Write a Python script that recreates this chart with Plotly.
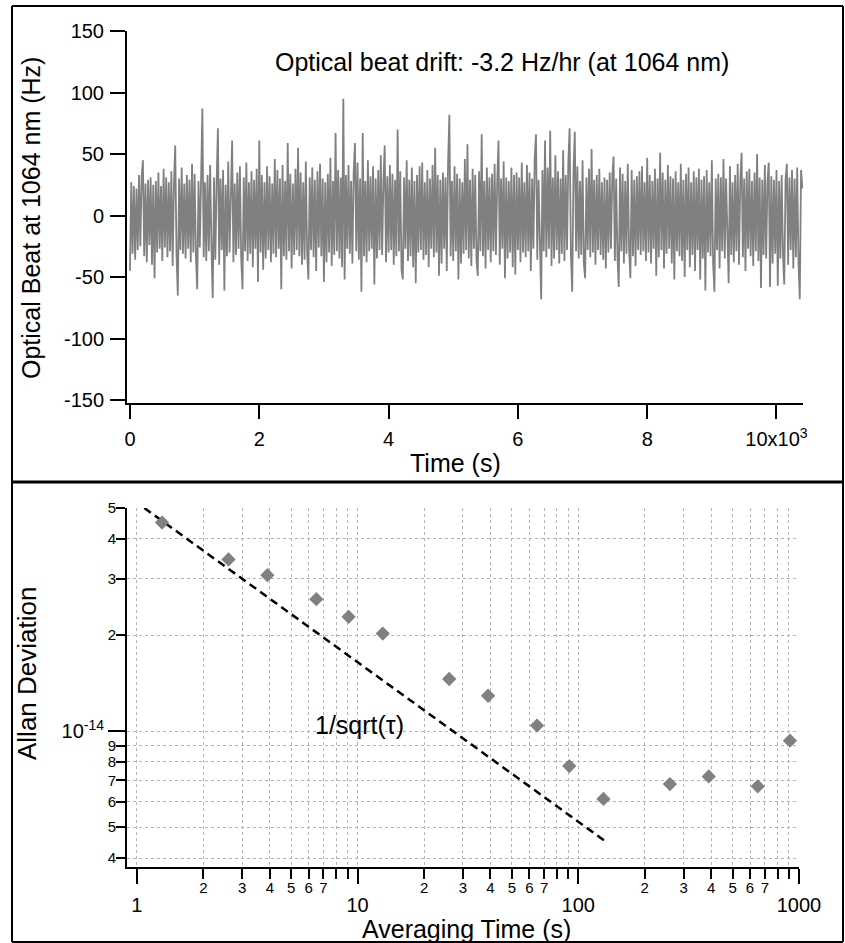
import plotly.graph_objects as go
import numpy as np

# ---------------- data ----------------
beat_hz = [
    -45, 27, -31, 24, -36, 22, -28, 33, -25, 30, 45, -33, 26, -38, 29, -24, 31, -40, 25, -51,
    28, -30, 35, -27, 24, -37, 38, -26, 31, -34, 27, -29, 36, -41, 25, 57, -32, -65, 30, -28,
    39, -31, 26, -35, 33, -27, 29, -38, 42, -30, 34, -33, -60, 28, -26, 36, 87, -34, 27, -37,
    33, -29, 41, -26, -67, 31, -36, 27, 71, -40, 30, -28, 37, -61, 25, -33, 44, -30, 28, 61,
    -38, 26, -32, 35, -27, 40, -34, -60, 31, -29, 43, -37, 27, -31, 36, -42, 29, -27, 38, -54,
    61, -30, 33, -44, 27, -35, 40, -28, 32, -38, 26, -31, 46, -34, 37, -27, 30, -60, 41, -33,
    28, -36, 59, -29, 34, -43, 26, -32, 38, -28, 55, -33, 35, -40, 27, -36, 44, -30, -52, 31,
    -28, 39, -34, 29, -45, 36, -26, 42, -33, 30, -54, 27, -38, 34, -30, 47, -41, 28, -32, 67,
    -29, 37, -35, 31, -42, 95, -52, 33, -27, 41, -31, 28, -39, 35, 59, -29, 43, -36, 30, -62,
    67, -33, 28, -38, 45, -29, 32, -27, 40, -56, 30, -35, 37, -28, 49, -32, 27, 57, -38, 32,
    -30, 41, -28, 34, -40, 29, -33, 70, -29, 36, -44, -52, 31, -27, 45, -37, 29, -33, 39, -42,
    28, -55, 33, -30, 40, -28, 43, -36, 27, -32, 37, -42, 30, -27, 41, -34, 55, -30, 33, -49,
    29, -39, 35, -27, 31, -45, 42, 82, -33, 28, -37, 40, -29, 34, -52, 30, -39, 27, -31, 46,
    -28, 58, -35, 29, -41, 38, -27, 33, -37, -49, 36, -29, 66, -33, 28, -43, 39, -28, 31, -38,
    34, -29, 42, -32, 27, 61, -40, 30, -27, 44, -51, 31, -35, 28, -30, 39, -42, 33, -48, 35,
    -28, 31, -38, 43, -30, 27, -34, 41, -29, 35, -45, 30, -27, 47, 66, -36, 29, -32, -68, 37,
    -29, 61, -34, 39, -27, 69, -41, 31, -35, 49, -28, 36, -39, 30, -31, 53, -37, 33, -28, 43,
    71, -31, -62, 36, 68, -29, 40, -35, 28, -32, 45, -39, -51, 31, -28, 38, -34, 54, -30, 29,
    -40, 33, -28, 38, -32, 27, -36, 31, -43, 29, -30, 35, -27, 32, 48, -37, 30, -33, -58, 39,
    -29, 34, -39, 28, -31, 42, -27, -51, 37, -33, 29, -41, 32, -28, 36, -32, 40, -29, 27, -37,
    47, -30, 33, -39, 28, -27, 38, -49, 30, -34, 51, -28, 35, -43, 29, -31, 41, -27, 32, -39,
    30, -52, 36, -29, 27, -33, 42, -37, 29, -50, 34, -28, 39, -42, 27, -32, 36, -45, 31, -28,
    38, -52, 29, -35, 32, -61, 37, -30, 27, -33, 45, -39, -62, 30, -28, 34, -43, 31, -29, 46,
    -35, 30, -28, -55, 40, -32, 27, -38, 33, -29, 42, -40, 28, 51, -34, 30, -45, 36, -27, 38,
    -33, 28, -41, 35, -29, 50, -37, 31, -59, 29, -32, 41, -35, 27, 43, -58, 32, -39, 29, -31,
    37, -57, 28, -35, 33, -31, -56, 29, 42, -40, 31, -28, 37, -43, 30, -34, 39, -37, -68, 37,
    22,
]
sample_interval_s = 20.0
time_s = np.arange(len(beat_hz)) * sample_interval_s

tau_s = [1.3, 2.6, 3.9, 6.5, 9.1, 13, 26, 39, 65, 91, 130, 260, 390, 650, 910]
allan_dev = [4.5e-14, 3.45e-14, 3.08e-14, 2.59e-14, 2.28e-14, 2.02e-14, 1.456e-14,
             1.29e-14, 1.04e-14, 7.77e-15, 6.13e-15, 6.82e-15, 7.21e-15, 6.71e-15, 9.33e-15]

ref_tau = [1.08, 134]
ref_dev = [5.0e-14, 4.49e-15]

top_xticks = [0, 2000, 4000, 6000, 8000, 10000]
top_xlabels = ["0", "2", "4", "6", "8", "10x10<sup>3</sup>"]
top_yticks = [-150, -100, -50, 0, 50, 100, 150]
top_ylabels = ["-150", "-100", "-50", "0", "50", "100", "150"]

x_major = [1, 10, 100, 1000]
x_major_lbl = ["1", "10", "100", "1000"]
x_minor = [m * d for d in (1, 10, 100) for m in range(2, 10)]
x_minor_lbl_vals = [m * d for d in (1, 10, 100) for m in range(2, 8)]
x_minor_lbl = [str(m) for d in (1, 10, 100) for m in range(2, 8)]

y_major = [1e-14]
y_major_lbl = ["10<sup>-14</sup>"]
y_minor = [4e-15, 5e-15, 6e-15, 7e-15, 8e-15, 9e-15, 2e-14, 3e-14, 4e-14, 5e-14]
y_minor_lbl = ["4", "5", "6", "7", "8", "9", "2", "3", "4", "5"]

# ---------------- figure ----------------
W, H = 845, 943
FONT = "Liberation Sans, Arial, Helvetica, sans-serif"
GRAY = "#808080"
GRID = "#b4b4b4"

def px(x):
    return x / W

def py(y):
    return 1 - y / H

fig = go.Figure()

fig.add_trace(go.Scatter(x=time_s, y=beat_hz, mode="lines",
                         line=dict(color=GRAY, width=1.8),
                         xaxis="x", yaxis="y", showlegend=False, hoverinfo="skip"))

fig.add_trace(go.Scatter(x=ref_tau, y=ref_dev, mode="lines",
                         line=dict(color="black", width=2.5, dash="8px,5px"),
                         xaxis="x2", yaxis="y2", showlegend=False))

fig.add_trace(go.Scatter(x=tau_s, y=allan_dev, mode="markers",
                         marker=dict(symbol="diamond", size=11, color=GRAY,
                                     line=dict(width=0)),
                         xaxis="x2", yaxis="y2", showlegend=False))

# invisible carrier so the label-only overlay axes are drawn
fig.add_trace(go.Scatter(x=tau_s, y=allan_dev, mode="markers",
                         marker=dict(size=1, opacity=0), hoverinfo="skip",
                         xaxis="x3", yaxis="y3", showlegend=False))

axis_common = dict(showline=True, linecolor="black", linewidth=2,
                   ticks="outside", tickcolor="black", tickwidth=2,
                   zeroline=False, mirror=False, automargin=False)

fig.update_layout(
    width=W, height=H,
    margin=dict(l=0, r=0, t=0, b=0),
    paper_bgcolor="white", plot_bgcolor="white",
    font=dict(family=FONT, color="black"),
    showlegend=False,
    xaxis=dict(domain=[px(127), px(803)], range=[-46, 10410],
               tickvals=top_xticks, ticktext=top_xlabels,
               ticklen=14, tickfont=dict(size=20), showgrid=False,
               anchor="y", ticklabelstandoff=3, **axis_common),
    yaxis=dict(domain=[py(403), py(31)], range=[-152.4, 150],
               tickvals=top_yticks, ticktext=top_ylabels, ticklen=15,
               tickfont=dict(size=20), showgrid=False, anchor="x",
               ticklabelstandoff=2, **axis_common),
    xaxis2=dict(domain=[px(127), px(799)], type="log", range=[-0.045, 3.0],
                tickvals=x_major, ticktext=x_major_lbl, ticklen=15,
                tickfont=dict(size=20), anchor="y2", ticklabelstandoff=4,
                showgrid=True, gridcolor=GRID, griddash="dot", gridwidth=1,
                minor=dict(tickvals=x_minor, ticklen=10, tickwidth=2, tickcolor="black",
                           ticks="outside", showgrid=True, gridcolor=GRID,
                           griddash="dot", gridwidth=1),
                **axis_common),
    xaxis3=dict(domain=[px(127), px(799)], type="log", range=[-0.045, 3.0],
                overlaying="x2", anchor="y2", side="bottom",
                tickvals=x_minor_lbl_vals, ticktext=x_minor_lbl,
                ticks="", showline=False, showgrid=False, zeroline=False,
                automargin=False, tickfont=dict(size=15), ticklabelstandoff=10),
    yaxis2=dict(domain=[py(867), py(508)], type="log", range=[-14.426, -13.301],
                tickvals=y_major, ticktext=y_major_lbl, ticklen=17,
                tickfont=dict(size=20), anchor="x2", ticklabelstandoff=0,
                showgrid=True, gridcolor=GRID, griddash="dot", gridwidth=1,
                minor=dict(tickvals=y_minor, ticklen=9, tickwidth=2, tickcolor="black",
                           ticks="outside", showgrid=True, gridcolor=GRID,
                           griddash="dot", gridwidth=1),
                **axis_common),
    yaxis3=dict(domain=[py(867), py(508)], type="log", range=[-14.426, -13.301],
                overlaying="y2", anchor="x2", side="left",
                tickvals=y_minor, ticktext=y_minor_lbl,
                ticks="", showline=False, showgrid=False, zeroline=False,
                automargin=False, tickfont=dict(size=15), ticklabelstandoff=10),
)

annotations = [
    dict(text="Optical beat drift: -3.2 Hz/hr (at 1064 nm)", x=px(502), y=py(62),
         font=dict(size=25)),
    dict(text="Optical Beat at 1064 nm (Hz)", x=px(31), y=py(218), textangle=-90,
         font=dict(size=25)),
    dict(text="Time (s)", x=px(455), y=py(463), font=dict(size=25)),
    dict(text="1/sqrt(\u03c4)", x=px(359), y=py(725), font=dict(size=25)),
    dict(text="Allan Deviation", x=px(27), y=py(674), textangle=-90,
         font=dict(size=26)),
    dict(text="Averaging Time (s)", x=px(467), y=py(929), font=dict(size=25)),
]
for a in annotations:
    a.update(xref="paper", yref="paper", showarrow=False,
             xanchor="center", yanchor="middle")
fig.update_layout(annotations=annotations)

line = dict(color="black", width=2)
shapes = [
    dict(type="line", x0=px(12), x1=px(843), y0=py(6), y1=py(6), line=line),
    dict(type="line", x0=px(12), x1=px(843), y0=py(942), y1=py(942), line=line),
    dict(type="line", x0=px(12), x1=px(12), y0=py(6), y1=py(942), line=line),
    dict(type="line", x0=px(843), x1=px(843), y0=py(6), y1=py(942), line=line),
    dict(type="line", x0=px(12), x1=px(843), y0=py(482), y1=py(482),
         line=dict(color="black", width=3)),
]
for s in shapes:
    s.update(xref="paper", yref="paper")
fig.update_layout(shapes=shapes)

fig.write_html("out.html", config={"displayModeBar": False},
               post_script="document.body.style.margin='0';document.body.style.overflow='hidden';")
